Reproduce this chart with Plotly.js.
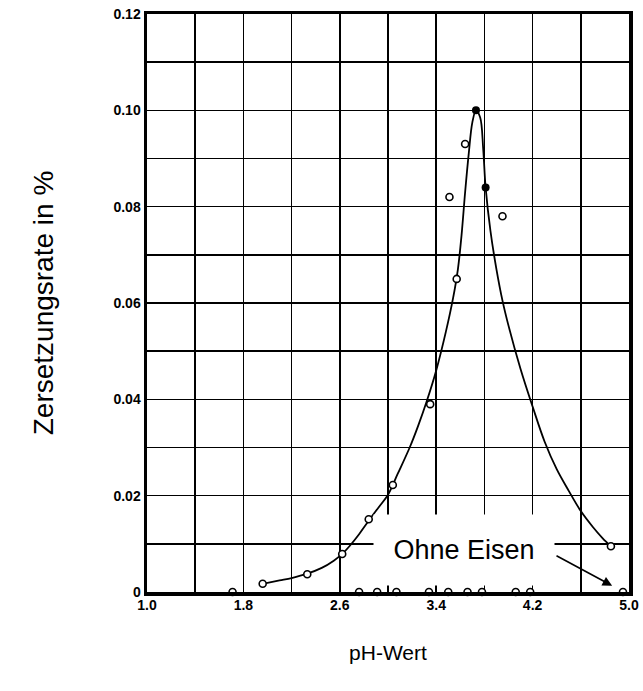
<!DOCTYPE html>
<html>
<head>
<meta charset="utf-8">
<script src="https://cdn.plot.ly/plotly-3.0.1.min.js"></script>
<style>html,body{margin:0;padding:0;background:#fff;}</style>
</head>
<body>
<div id="chart" style="width:643px;height:691px;"></div>
<script>
// Fitted curve "mit Eisen"
const curvePH  = [1.96, 2.10, 2.20, 2.33, 2.45, 2.55, 2.62, 2.68, 2.76, 2.84, 2.92, 3.00, 3.08, 3.18, 3.25, 3.32, 3.40, 3.48, 3.54, 3.58, 3.61, 3.64, 3.67, 3.70, 3.73, 3.765, 3.79, 3.81, 3.85, 3.90, 3.95, 4.00, 4.10, 4.20, 4.30, 4.40, 4.50, 4.60, 4.70, 4.78, 4.85];
const curveVal = [0.0017, 0.0024, 0.0029, 0.0038, 0.0050, 0.0065, 0.0079, 0.0095, 0.0120, 0.0148, 0.0175, 0.0202, 0.0245, 0.0300, 0.0345, 0.0395, 0.0460, 0.0540, 0.0610, 0.0670, 0.0740, 0.0830, 0.0910, 0.0975, 0.1000, 0.0985, 0.0920, 0.0840, 0.0750, 0.0670, 0.0605, 0.0553, 0.0463, 0.0385, 0.0312, 0.0255, 0.0210, 0.0168, 0.0135, 0.0112, 0.0095];

// Measured points (open circles)
const openPH  = [1.96, 2.33, 2.62, 2.84, 3.04, 3.35, 3.57, 3.51, 3.64, 3.95, 4.85];
const openVal = [0.0017, 0.0037, 0.0079, 0.0151, 0.0222, 0.0390, 0.0650, 0.0820, 0.0930, 0.0780, 0.0095];

// Measured points (filled circles)
const filledPH  = [3.73, 3.81];
const filledVal = [0.1000, 0.0840];

// "Ohne Eisen" points on the zero line
const ohnePH  = [1.71, 2.76, 2.91, 3.07, 3.34, 3.50, 3.66, 3.78, 4.06, 4.18, 4.95];
const ohneVal = [0, 0, 0, 0, 0, 0, 0, 0, 0, 0, 0];

// Tick labels
const xTickVals = [1.0, 1.8, 2.6, 3.4, 4.2, 5.0];
const xTickText = ['1.0', '1.8', '2.6', '3.4', '4.2', '5.0'];
const yTickVals = [0, 0.02, 0.04, 0.06, 0.08, 0.10, 0.12];
const yTickText = ['0', '0.02', '0.04', '0.06', '0.08', '0.10', '0.12'];

const traces = [
  {x: curvePH, y: curveVal, type: 'scatter', mode: 'lines',
   line: {color: '#000', width: 1.8, shape: 'spline', smoothing: 1.0},
   hoverinfo: 'skip', showlegend: false},
  {x: openPH, y: openVal, type: 'scatter', mode: 'markers',
   marker: {symbol: 'circle', size: 7, color: '#fff', line: {color: '#000', width: 1.6}},
   showlegend: false, cliponaxis: false},
  {x: filledPH, y: filledVal, type: 'scatter', mode: 'markers',
   marker: {symbol: 'circle', size: 8, color: '#000'},
   showlegend: false, cliponaxis: false},
  {x: ohnePH, y: ohneVal, type: 'scatter', mode: 'markers',
   marker: {symbol: 'circle', size: 7, color: '#fff', line: {color: '#000', width: 1.6}},
   showlegend: false, cliponaxis: false}
];

const tickFont = {family: '"Liberation Sans Narrow", "Liberation Sans", Arial, sans-serif', size: 14, weight: 'bold', color: '#000'};

const layout = {
  width: 643, height: 691,
  margin: {l: 147, r: 14, t: 14, b: 99},
  paper_bgcolor: '#fff', plot_bgcolor: '#fff',
  font: {family: '"Liberation Sans", Arial, sans-serif', color: '#000'},
  xaxis: {
    range: [1.0, 5.0], tickmode: 'array', tickvals: xTickVals, ticktext: xTickText,
    showgrid: true, gridcolor: '#000', gridwidth: 1.5,
    minor: {dtick: 0.4, tick0: 1.0, showgrid: true, gridcolor: '#000', gridwidth: 1.5},
    showline: true, linecolor: '#000', linewidth: 3.5, mirror: true,
    zeroline: false, ticks: '', tickfont: tickFont, ticklabelstandoff: -2,
    title: {text: 'pH-Wert', font: {size: 21, color: '#000'}, standoff: 34},
    automargin: false
  },
  yaxis: {
    range: [0, 0.12], tickmode: 'array', tickvals: yTickVals, ticktext: yTickText,
    showgrid: true, gridcolor: '#000', gridwidth: 1.5,
    minor: {dtick: 0.01, tick0: 0, showgrid: true, gridcolor: '#000', gridwidth: 1.5},
    showline: true, linecolor: '#000', linewidth: 3.5, mirror: true,
    zeroline: false, ticks: '', tickfont: tickFont,
    title: {text: 'Zersetzungsrate in %', font: {size: 28, color: '#000'}, standoff: 52},
    automargin: false
  },
  annotations: [
    {x: 3.63, y: 0.0087, xref: 'x', yref: 'y', text: 'Ohne Eisen', showarrow: false,
     font: {size: 27, color: '#000'}, bgcolor: '#fff', width: 178, height: 68,
     align: 'center', valign: 'middle'},
    {x: 4.86, y: 0.0013, xref: 'x', yref: 'y', ax: 4.386, ay: 0.0077, axref: 'x', ayref: 'y',
     text: '', showarrow: true, arrowhead: 2, arrowsize: 1.2, arrowwidth: 1.6, arrowcolor: '#000'}
  ]
};

Plotly.newPlot('chart', traces, layout, {displayModeBar: false, staticPlot: true});
</script>
</body>
</html>
